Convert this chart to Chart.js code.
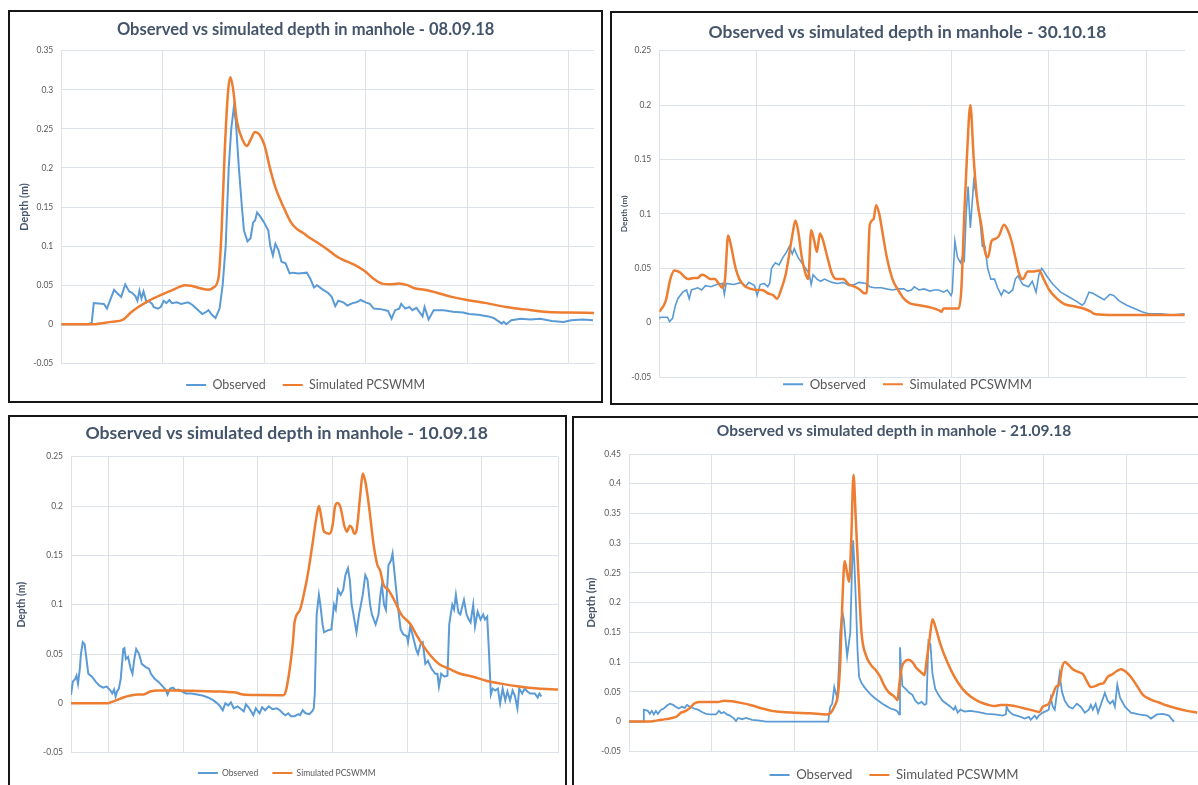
<!DOCTYPE html>
<html>
<head>
<meta charset="utf-8">
<title>Observed vs simulated depth in manhole</title>
<script src="https://cdn.jsdelivr.net/npm/chart.js@4.4.1/dist/chart.umd.min.js"></script>
<style>
	body { margin: 0; width: 1198px; height: 785px; overflow: hidden; background: #fff; position: relative; }
	.frame { position: absolute; border: 2px solid #161616; box-sizing: border-box; }
	canvas { position: absolute; }
</style>
</head>
<body>
<div class="frame" style="left:8px;top:10px;width:595px;height:393px"></div>
<div class="frame" style="left:610px;top:11px;width:600px;height:394px"></div>
<div class="frame" style="left:8px;top:415px;width:559px;height:400px"></div>
<div class="frame" style="left:572px;top:416px;width:640px;height:400px"></div>

<canvas id="chart0809" width="591" height="391" style="left:10px;top:12px"></canvas>
<canvas id="chart3010" width="585" height="405" style="left:613px;top:13px"></canvas>
<canvas id="chart1009" width="554" height="369" style="left:10px;top:417px"></canvas>
<canvas id="chart2109" width="623" height="374" style="left:575px;top:418px"></canvas>

<script>
// series names and event dates
let seriesNames = ["Observed", "Simulated PCSWMM"];
let eventDates = ["08.09.18", "30.10.18", "10.09.18", "21.09.18"];

// depth axis ranges (m) per event
let depthRange0809 = [-0.05, 0.35];
let depthRange3010 = [-0.05, 0.25];
let depthRange1009 = [-0.05, 0.25];
let depthRange2109 = [-0.05, 0.45];

// [time step, depth in m]
let observed0809 = [[0,0],[27,0],[30,0.002],[32,0.027],[42,0.026],[45,0.02],[52,0.044],[55,0.04],[59,0.035],[63,0.051],[67,0.042],[70,0.04],[73,0.036],[75,0.03],[77,0.043],[79,0.033],[81,0.042],[84,0.028],[86,0.03],[89.5,0.026],[91,0.022],[95,0.02],[98,0.022],[101,0.03],[103.5,0.027],[106.5,0.031],[109,0.027],[114,0.028],[118,0.026],[125,0.028],[129,0.025],[133,0.02],[139,0.013],[142,0.015],[145,0.018],[148.5,0.012],[152,0.008],[156,0.02],[159,0.05],[162,0.1],[165,0.2],[167.5,0.25],[170,0.277],[172,0.26],[175,0.2],[178,0.15],[180,0.12],[183.5,0.106],[186.5,0.11],[189,0.13],[191,0.133],[193,0.143],[196,0.138],[200,0.13],[204,0.12],[206,0.1],[208.5,0.088],[211,0.103],[214,0.095],[217,0.08],[221,0.078],[225,0.065],[228,0.066],[234,0.065],[242,0.066],[245.5,0.058],[249,0.047],[252,0.05],[257,0.045],[263,0.04],[266.5,0.035],[270,0.023],[273,0.03],[278,0.028],[282,0.024],[287,0.027],[291,0.028],[295,0.031],[300,0.028],[304,0.026],[308,0.02],[316,0.019],[322,0.017],[325.5,0.007],[329,0.018],[333,0.02],[335,0.026],[339,0.02],[343,0.022],[346,0.018],[350,0.021],[356,0.01],[358,0.022],[362,0.006],[367,0.018],[377,0.018],[386,0.016],[396,0.015],[402,0.013],[411,0.012],[421,0.01],[426,0.008],[434,0.001],[436,0.003],[438.5,0],[443.5,0.005],[453,0.007],[462.5,0.006],[472,0.007],[483.5,0.004],[495,0.003],[502.5,0.005],[514,0.006],[524,0.005]];
let simulated0809 = [[0,0],[34,0],[38,0.001],[49.5,0.003],[61,0.006],[68.5,0.015],[76,0.022],[86,0.03],[99,0.038],[110,0.044],[122,0.05],[129,0.049],[137,0.046],[145,0.044],[150,0.047],[155,0.06],[158,0.12],[161,0.22],[164.5,0.3],[166.7,0.316],[169.4,0.3],[173,0.26],[179,0.235],[183,0.228],[186.5,0.236],[191,0.246],[195,0.243],[200,0.23],[205.6,0.2],[211,0.175],[219,0.15],[226.5,0.13],[232,0.122],[238,0.117],[245.5,0.11],[253,0.104],[263,0.095],[270,0.088],[280,0.081],[289,0.076],[299,0.068],[308,0.058],[316,0.052],[324,0.051],[333,0.052],[341,0.05],[348,0.046],[358,0.044],[371,0.04],[384.5,0.035],[400,0.031],[419,0.027],[438,0.022],[457,0.019],[476,0.016],[499,0.015],[525,0.0145]];

let observed3010 = [[0,0.003],[0.8,0.005],[8.5,0.005],[10.5,0.001],[13.6,0.004],[16.3,0.015],[19,0.022],[24,0.028],[28,0.03],[30.7,0.022],[33,0.03],[39.6,0.032],[43.5,0.03],[47.4,0.034],[53.2,0.033],[59,0.035],[64.8,0.036],[66.8,0.026],[68.7,0.036],[76.5,0.035],[84.2,0.037],[88.1,0.033],[92,0.037],[97.8,0.034],[100.5,0.025],[103.6,0.035],[107.5,0.036],[111.4,0.033],[113.4,0.036],[115.3,0.05],[119.2,0.055],[123,0.053],[127,0.06],[130.8,0.065],[133.5,0.07],[136.6,0.063],[138.6,0.068],[142.5,0.06],[146.4,0.055],[150.2,0.05],[154,0.045],[156,0.035],[158,0.044],[161.9,0.04],[165.8,0.038],[169.6,0.04],[177.4,0.037],[183,0.036],[189,0.037],[195,0.034],[200.7,0.035],[205,0.037],[212.3,0.036],[216.2,0.033],[221,0.032],[227.9,0.032],[233,0.031],[239.5,0.03],[245,0.031],[251.2,0.031],[255,0.029],[259,0.03],[262,0.033],[266.7,0.03],[272,0.031],[278,0.029],[282.2,0.03],[287,0.03],[292,0.028],[295.8,0.03],[299.7,0.025],[300.9,0.028],[303.6,0.075],[306.3,0.06],[309.4,0.055],[311.3,0.06],[313.3,0.057],[315.2,0.1],[317.2,0.125],[319.5,0.087],[323,0.13],[326,0.115],[328.8,0.1],[331.9,0.07],[334.6,0.07],[337.3,0.05],[340.5,0.04],[344.3,0.04],[347.5,0.032],[351.3,0.025],[354,0.03],[359,0.027],[363,0.03],[365.7,0.04],[368.4,0.043],[373.4,0.035],[379.3,0.033],[383.1,0.038],[387,0.028],[390.1,0.045],[392.9,0.05],[398.7,0.042],[404.5,0.035],[412.3,0.028],[420,0.024],[427.8,0.02],[434.4,0.016],[436.7,0.018],[441.4,0.028],[445.3,0.027],[451.1,0.024],[457,0.021],[462.7,0.026],[466.6,0.025],[472.4,0.02],[480.2,0.016],[488,0.013],[495.7,0.01],[503.5,0.008],[515.1,0.008],[526.8,0.007],[539.6,0.008]];
let simulated3010 = [[0,0.01],[6.6,0.02],[11.3,0.04],[15.5,0.048],[21.4,0.046],[26,0.042],[29.9,0.04],[35.7,0.041],[39.6,0.041],[43.5,0.044],[47.4,0.043],[52.4,0.04],[57,0.04],[61,0.036],[64.8,0.032],[67.5,0.04],[70.7,0.08],[73.8,0.07],[78.4,0.05],[82.3,0.04],[87.3,0.034],[94,0.031],[99.8,0.03],[105.6,0.03],[111.4,0.027],[117.2,0.025],[121,0.022],[125,0.03],[130,0.045],[136.6,0.08],[139.8,0.094],[142.5,0.085],[146.4,0.06],[150.2,0.045],[153,0.04],[156,0.085],[159.2,0.075],[161.9,0.065],[165,0.082],[167.7,0.077],[172.7,0.06],[177.4,0.045],[182,0.04],[189,0.04],[194.9,0.035],[200.7,0.033],[206.5,0.03],[210.4,0.027],[213,0.027],[216.2,0.09],[220,0.095],[222.8,0.108],[225.9,0.1],[229.8,0.08],[233.7,0.06],[239.5,0.04],[245.3,0.03],[251.2,0.022],[257,0.018],[266.7,0.016],[278.3,0.014],[288,0.011],[290,0.01],[292,0.013],[307.4,0.013],[310.2,0.03],[313.3,0.1],[316.4,0.16],[319.5,0.2],[323,0.15],[326.9,0.11],[330.7,0.09],[334.6,0.065],[337.7,0.06],[341.2,0.075],[345.1,0.077],[349,0.08],[354,0.09],[358,0.085],[361.8,0.075],[365.7,0.06],[369.6,0.045],[373.4,0.04],[378.5,0.047],[383.9,0.047],[390.1,0.048],[394.8,0.04],[400.6,0.03],[408.4,0.022],[416.1,0.017],[425.9,0.015],[435.6,0.013],[443.3,0.01],[447.2,0.008],[468.6,0.007],[499.6,0.007],[539.6,0.007]];

let observed1009 = [[0,0.0085],[2.5,0.022],[5.9,0.025],[7.4,0.028],[9.4,0.02],[11.8,0.035],[13.3,0.05],[15.8,0.062],[18.2,0.06],[20.7,0.045],[23.2,0.03],[28.1,0.027],[33,0.022],[38,0.018],[42.9,0.016],[47.8,0.017],[52.8,0.013],[55.2,0.01],[57.7,0.014],[59.7,0.007],[61.6,0.012],[64.1,0.015],[66.6,0.025],[70,0.055],[71.5,0.056],[73.5,0.045],[76.4,0.047],[79.9,0.035],[82.3,0.03],[84.8,0.045],[87.3,0.055],[91.2,0.05],[94.7,0.04],[99.6,0.037],[104.5,0.035],[107,0.03],[111.9,0.025],[116.9,0.022],[121.8,0.018],[126.7,0.014],[129.2,0.009],[132.6,0.015],[136.6,0.016],[140.5,0.013],[144,0.014],[148.9,0.012],[153.8,0.01],[161.2,0.01],[168.6,0.009],[176,0.008],[183.4,0.006],[190.8,0.003],[195.8,0],[199.7,-0.003],[203.2,-0.007],[206.6,0],[210.6,-0.002],[214,0.001],[217.9,-0.005],[222.9,-0.003],[227.8,-0.006],[231.3,-0.008],[234.2,-0.001],[237.7,-0.004],[241.1,-0.008],[244.1,-0.012],[247.5,-0.005],[252.5,-0.01],[255.9,-0.004],[259.9,-0.007],[264.8,-0.003],[269.7,-0.006],[275.6,-0.005],[279.6,-0.007],[283.5,-0.01],[287,-0.012],[290.9,-0.01],[294.4,-0.013],[299.3,-0.013],[304.3,-0.011],[306.7,-0.012],[310.2,-0.007],[314.1,-0.01],[319,-0.011],[323,-0.008],[325,-0.005],[326.4,0.01],[328.9,0.09],[331.9,0.11],[333.8,0.1],[336.8,0.08],[338.8,0.072],[343.7,0.074],[348.6,0.075],[352.1,0.1],[354.5,0.095],[357.5,0.115],[361,0.11],[364.4,0.115],[367.4,0.13],[370.8,0.137],[373.3,0.125],[375.7,0.1],[378.2,0.09],[382.2,0.072],[385.6,0.09],[390.6,0.11],[394,0.13],[397,0.125],[400.4,0.1],[402.9,0.09],[405.3,0.085],[407.8,0.08],[411.7,0.09],[414.2,0.11],[416.2,0.12],[419.1,0.1],[421.6,0.095],[425,0.14],[428.5,0.145],[430.5,0.152],[433.4,0.13],[437.4,0.1],[441.3,0.075],[444.8,0.07],[449.7,0.068],[451.2,0.062],[454.2,0.078],[457.1,0.07],[462,0.055],[464.5,0.05],[468,0.06],[470.9,0.062],[474.4,0.04],[477.8,0.043],[482.8,0.035],[487.7,0.03],[490.6,0.03],[492.6,0.017],[495.6,0.03],[500,0.027],[504,0.028],[506.4,0.08],[510.4,0.1],[512.8,0.095],[515.3,0.11],[518.7,0.092],[521.2,0.09],[526.1,0.105],[529.6,0.09],[532.5,0.085],[535,0.082],[538.5,0.1],[540.9,0.078],[544.4,0.093],[548.3,0.085],[551.8,0.09],[554.2,0.085],[557.2,0.088],[559.7,0.05],[562.1,0.009],[564.6,0.015],[568,0.013],[571.5,0.015],[574.5,0],[577.9,0.015],[581.4,0.003],[584.3,0.012],[587.8,0.003],[591.2,0.013],[594.2,0.008],[597.7,-0.005],[600.1,0.015],[604,0.01],[607.5,0.015],[611,0.012],[614.9,0.01],[620.8,0.01],[624.8,0.006],[627.2,0.01],[629.7,0.007]];
let simulated1009 = [[0,0],[47.8,0],[52.8,0.001],[60.2,0.003],[70,0.006],[79.9,0.008],[89.7,0.009],[97.1,0.009],[106,0.012],[116.9,0.013],[141.5,0.013],[171.1,0.0125],[200.7,0.012],[220.4,0.011],[230.3,0.009],[250,0.0085],[284.5,0.0083],[287.5,0.012],[291.9,0.03],[296.9,0.06],[299.3,0.082],[306.7,0.095],[311.6,0.11],[318,0.135],[323,0.16],[328.9,0.19],[331.9,0.2],[334.8,0.19],[338.8,0.174],[346.2,0.172],[350.1,0.18],[353.6,0.2],[357,0.203],[361,0.198],[365.9,0.18],[369.3,0.174],[373.3,0.18],[376.2,0.178],[379.2,0.172],[382.2,0.175],[387.1,0.21],[390.6,0.233],[394,0.225],[398.9,0.2],[405.3,0.16],[410.3,0.14],[413.7,0.135],[418.6,0.12],[425,0.115],[432.5,0.105],[442.3,0.09],[454.7,0.08],[462,0.07],[471.9,0.058],[481.8,0.048],[492.6,0.04],[506.4,0.035],[521.2,0.03],[538.5,0.027],[555.7,0.023],[575.5,0.02],[600.1,0.017],[624.8,0.015],[652,0.014]];

let observed2109 = [[0,0],[16.9,0],[17.9,0.02],[22.7,0.018],[25.1,0.013],[27.5,0.018],[30,0.012],[32.4,0.018],[34.8,0.013],[38.7,0.02],[42,0.022],[45.9,0.027],[49.3,0.03],[53.2,0.028],[56.5,0.025],[59.9,0.022],[63.8,0.025],[67.2,0.023],[70,0.028],[73.5,0.025],[78.3,0.022],[83.1,0.02],[88,0.016],[92.8,0.013],[97.6,0.012],[104.9,0.012],[108.3,0.018],[111.2,0.014],[114.5,0.016],[117.9,0.012],[121.8,0.01],[126.6,0.005],[129,0.001],[131.5,0.006],[136.3,0.004],[141.1,0.006],[148.4,0.003],[155.6,0.002],[165.3,0],[240.2,0],[242.6,0.025],[245,0.03],[247.5,0.058],[249.9,0.045],[251.3,0.04],[253.3,0.1],[254.7,0.15],[257.2,0.185],[259.1,0.17],[261,0.14],[263,0.11],[264.9,0.13],[266.8,0.15],[268.7,0.25],[270.2,0.305],[271.6,0.27],[273.6,0.2],[275.5,0.12],[277.4,0.075],[280.3,0.065],[283.7,0.058],[288.5,0.05],[291.9,0.045],[295.8,0.04],[300.6,0.035],[305.5,0.03],[310.3,0.026],[315.1,0.022],[319.9,0.02],[323.8,0.017],[325.7,0.012],[326.7,0.125],[328.1,0.09],[329.6,0.06],[333.5,0.055],[338.3,0.048],[341.7,0.045],[345.1,0.035],[348.9,0.03],[352.8,0.033],[356.2,0.028],[358.6,0.03],[361,0.135],[363.4,0.13],[365.9,0.08],[369.2,0.055],[373.1,0.045],[377.9,0.035],[382.8,0.03],[387.6,0.025],[391.5,0.02],[393.4,0.025],[396.3,0.015],[399.7,0.02],[404.5,0.017],[411.8,0.018],[421.4,0.016],[431.1,0.013],[440.8,0.012],[450.4,0.01],[454.3,0.012],[455.3,0.025],[457.7,0.018],[462.5,0.012],[467.4,0.01],[472.2,0.008],[477,0.005],[481.9,0.008],[484.3,0.003],[489.1,0.01],[491.5,0.005],[494,0.01],[498.8,0.015],[503.6,0.018],[506,0.02],[508.5,0.04],[510.9,0.025],[513.3,0.02],[515.7,0.045],[519.1,0.08],[522,0.05],[525.4,0.035],[530.2,0.025],[535,0.022],[539.9,0.03],[544.7,0.025],[549.5,0.015],[554.4,0.02],[556.8,0.028],[559.2,0.02],[562.6,0.03],[565.5,0.015],[573.7,0.048],[577.1,0.035],[580,0.03],[583.3,0.035],[585.8,0.025],[588.7,0.062],[592,0.04],[597.9,0.025],[605.1,0.015],[614.8,0.012],[624.4,0.01],[629.3,0.005],[636.5,0.012],[643.8,0.013],[651,0.01],[654.9,0.003],[657.3,0]];
let simulated2109 = [[0,0],[25.1,0],[30,0.001],[39.6,0.003],[51.7,0.006],[58,0.009],[62.8,0.015],[68.6,0.018],[73.5,0.023],[78.3,0.03],[84.1,0.033],[97.6,0.033],[107.3,0.033],[114.5,0.035],[124.2,0.034],[136.3,0.031],[148.4,0.027],[160.5,0.022],[172.5,0.018],[184.6,0.016],[199.1,0.015],[218.5,0.014],[237.8,0.012],[242.6,0.014],[247.5,0.025],[252.3,0.05],[254.7,0.1],[257.2,0.2],[260,0.27],[262.9,0.25],[265.3,0.235],[267.8,0.3],[270.7,0.415],[273.1,0.35],[276.5,0.25],[280.3,0.15],[286.1,0.11],[291.9,0.095],[298.2,0.085],[303,0.075],[307.9,0.06],[312.7,0.05],[319.9,0.042],[323.8,0.036],[325.7,0.06],[328.6,0.09],[332,0.1],[336.9,0.104],[341.7,0.1],[346.5,0.09],[352.8,0.082],[356.2,0.078],[358.6,0.1],[362.5,0.14],[365.9,0.172],[369.2,0.16],[375.5,0.13],[383.7,0.1],[392.4,0.075],[402.1,0.055],[411.8,0.042],[421.4,0.034],[433.5,0.028],[440.8,0.026],[448,0.028],[455.3,0.028],[465,0.026],[477,0.022],[489.1,0.018],[494.9,0.016],[498.8,0.025],[506,0.03],[510.9,0.045],[515.7,0.06],[518.1,0.06],[522,0.09],[525.4,0.1],[530.2,0.095],[535,0.088],[542.3,0.083],[547.2,0.08],[552,0.068],[556.8,0.058],[562.6,0.06],[567.4,0.063],[572.3,0.065],[577.1,0.075],[583.3,0.08],[588.2,0.085],[593,0.088],[597.9,0.085],[605.1,0.075],[612.4,0.06],[619.6,0.045],[629.3,0.037],[639,0.032],[648.6,0.027],[660.7,0.022],[672.8,0.018],[684.9,0.015]];

let blue = "#5b9bd5";
let orange = "#ed7d31";
let gridColor = "#dde1e8";
let labelColor = "#595959";
let titleColor = "#44546a";

Chart.defaults.font.family = "Lato, 'Open Sans', sans-serif";

// moves the legend row to where the original has it
let legendPlacer = {
	id: "legendPlacer",
	afterLayout: function (chart, args, opts) {
		let legend = chart.legend;
		if (!legend || opts.top === undefined) return;
		let h = legend.height;
		legend.top = opts.top;
		legend.bottom = opts.top + h;
	}
};

function lineLegendLabels(chart) {
	let items = Chart.defaults.plugins.legend.labels.generateLabels(chart);
	return items.map(function (item) {
		item.lineWidth = 0;
		return item;
	});
}

function drawDepthChart(canvasId, s) {
	let ctx = document.getElementById(canvasId).getContext("2d");
	return new Chart(ctx, {
		type: "line",
		data: {
			datasets: [{
				label: seriesNames[0],
				data: s.observed,
				borderColor: blue,
				backgroundColor: blue,
				borderWidth: s.obsWidth,
				pointRadius: 0,
				tension: 0,
				order: 1
			}, {
				label: seriesNames[1],
				data: s.simulated,
				borderColor: orange,
				backgroundColor: orange,
				borderWidth: 2.5,
				pointRadius: 0,
				cubicInterpolationMode: "monotone",
				order: 0
			}]
		},
		options: {
			responsive: false,
			animation: false,
			events: [],
			layout: { padding: { left: s.padL, right: s.padR, top: 0, bottom: s.padB } },
			plugins: {
				title: {
					display: true,
					text: "Observed vs simulated depth in manhole - " + s.date,
					color: titleColor,
					font: { weight: "bold", size: s.titleSize },
					padding: { top: s.titleTop, bottom: s.titleBottom }
				},
				legend: {
					position: "bottom",
					labels: {
						color: labelColor,
						font: { size: s.legendSize },
						boxWidth: 20,
						boxHeight: 2,
						padding: s.legendGap,
						sort: function (a, b) { return a.datasetIndex - b.datasetIndex; },
						generateLabels: lineLegendLabels
					}
				},
				legendPlacer: { top: s.legendTop },
				tooltip: { enabled: false }
			},
			scales: {
				x: {
					type: "linear",
					min: 0,
					max: s.xMax,
					ticks: { display: false },
					grid: { color: gridColor, drawTicks: false },
					border: { color: gridColor },
					afterBuildTicks: function (scale) {
						scale.ticks = s.xGrid.map(function (v) { return { value: v }; });
					},
					afterFit: function (scale) { scale.height = 0; }
				},
				y: {
					min: s.yRange[0],
					max: s.yRange[1],
					ticks: {
						stepSize: 0.05,
						padding: 8,
						color: labelColor,
						font: { size: 8.5 },
						callback: function (v) { return String(+v.toFixed(2)); }
					},
					grid: { color: gridColor, drawTicks: false },
					border: { color: gridColor },
					title: {
						display: true,
						text: "Depth (m)",
						color: titleColor,
						font: { weight: "bold", size: s.axisTitleSize },
						padding: { top: s.axisTitlePad, bottom: 0 }
					},
					afterFit: function (scale) { scale.width = s.yWidth; }
				}
			}
		},
		plugins: [legendPlacer]
	});
}

window.onload = function () {
	drawDepthChart("chart0809", {
		date: eventDates[0], observed: observed0809, simulated: simulated0809, yRange: depthRange0809,
		xMax: 525, xGrid: [100, 200, 300, 400, 500], obsWidth: 2,
		padL: 7.2, padR: 7, padB: 0.2, yWidth: 44.1,
		titleSize: 16.5, titleTop: 7.4, titleBottom: 11.5,
		legendSize: 12.5, legendGap: 17, legendTop: 349.75,
		axisTitleSize: 10.8, axisTitlePad: 1.3
	});
	drawDepthChart("chart3010", {
		date: eventDates[1], observed: observed3010, simulated: simulated3010, yRange: depthRange3010,
		xMax: 540, xGrid: [100, 200, 300, 400, 500], obsWidth: 1.6,
		padL: 17, padR: 13, padB: 0.8, yWidth: 29.3,
		titleSize: 17.4, titleTop: 9.26, titleBottom: 7.56,
		legendSize: 13.2, legendGap: 17, legendTop: 347.7,
		axisTitleSize: 8.4, axisTitlePad: -10.3
	});
	drawDepthChart("chart1009", {
		date: eventDates[2], observed: observed1009, simulated: simulated1009, yRange: depthRange1009,
		xMax: 652, xGrid: [50, 150, 250, 350, 450, 550, 652], obsWidth: 2,
		padL: 5.4, padR: 6, padB: 0.8, yWidth: 55.6,
		titleSize: 17.6, titleTop: 5.74, titleBottom: 12.84,
		legendSize: 8.5, legendGap: 14, legendTop: 337.75,
		axisTitleSize: 10.4, axisTitlePad: 0.36
	});
	drawDepthChart("chart2109", {
		date: eventDates[3], observed: observed2109, simulated: simulated2109, yRange: depthRange2109,
		xMax: 686, xGrid: [100, 200, 300, 400, 500, 600], obsWidth: 1.8,
		padL: 15, padR: 0, padB: 0.5, yWidth: 39,
		titleSize: 15.5, titleTop: 3.7, titleBottom: 13.7,
		legendSize: 13.2, legendGap: 17, legendTop: 333.4,
		axisTitleSize: 11.4, axisTitlePad: -5.84
	});
};
</script>
</body>
</html>
